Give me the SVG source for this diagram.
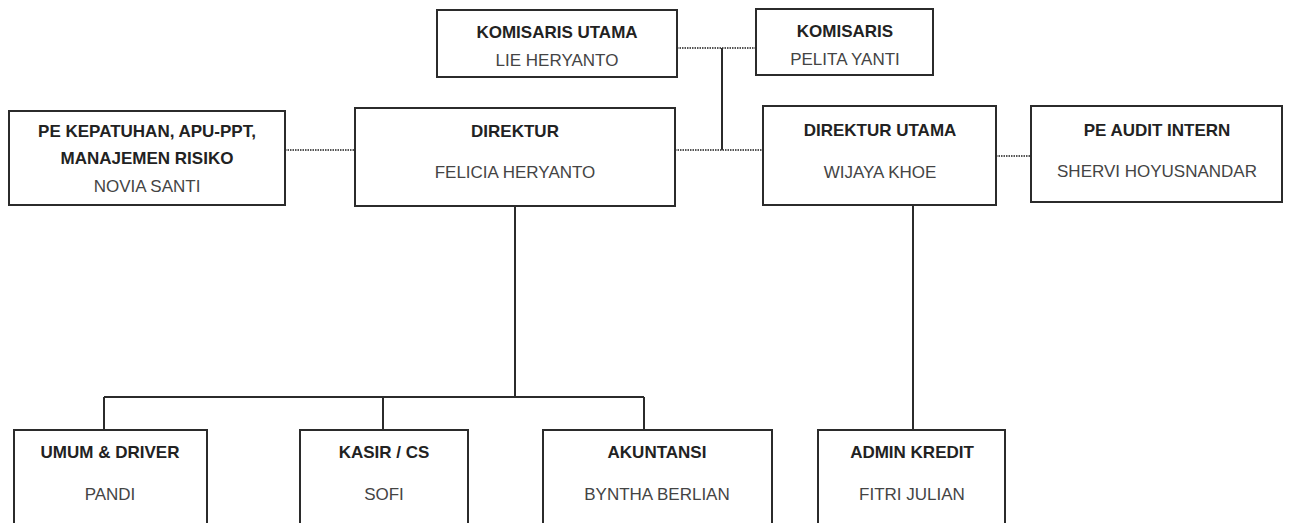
<svg xmlns="http://www.w3.org/2000/svg" width="1290" height="523" viewBox="0 0 1290 523">
<style>
.box{fill:#fff;stroke:#2b2b2b;stroke-width:2}
.t{font-family:"Liberation Sans",Arial,sans-serif;font-size:17px;font-weight:bold;fill:#222;text-anchor:middle}
.n{font-family:"Liberation Sans",Arial,sans-serif;font-size:17px;fill:#444;text-anchor:middle}
.solid{fill:none;stroke:#2b2b2b;stroke-width:2}
.dot{fill:none;stroke:#555;stroke-width:2;stroke-dasharray:1.5 1}
</style>
<rect width="1290" height="523" fill="#fff"/>
<g id="connectors">
<path class="dot" d="M677 48H756"/>
<path class="solid" d="M722 48V150"/>
<path class="dot" d="M285 150H355"/>
<path class="dot" d="M675 150H763"/>
<path class="dot" d="M996 156H1031"/>
<path class="solid" d="M515 206V397M104 397H644M104 397V430M383 397V430M644 397V430"/>
<path class="solid" d="M913 205V430"/>
</g>
<g id="komisaris-utama">
<rect class="box" x="437" y="10" width="240" height="67"/>
<text class="t" x="557" y="38">KOMISARIS UTAMA</text>
<text class="n" x="557" y="66">LIE HERYANTO</text>
</g>
<g id="komisaris">
<rect class="box" x="756" y="9" width="177" height="66"/>
<text class="t" x="845" y="37">KOMISARIS</text>
<text class="n" x="845" y="65">PELITA YANTI</text>
</g>
<g id="pe-kepatuhan">
<rect class="box" x="9" y="111" width="276" height="94"/>
<text class="t" x="147" y="137">PE KEPATUHAN, APU-PPT,</text>
<text class="t" x="147" y="164">MANAJEMEN RISIKO</text>
<text class="n" x="147" y="192">NOVIA SANTI</text>
</g>
<g id="direktur">
<rect class="box" x="355" y="108" width="320" height="98"/>
<text class="t" x="515" y="137">DIREKTUR</text>
<text class="n" x="515" y="178">FELICIA HERYANTO</text>
</g>
<g id="direktur-utama">
<rect class="box" x="763" y="106" width="233" height="99"/>
<text class="t" x="880" y="136">DIREKTUR UTAMA</text>
<text class="n" x="880" y="178">WIJAYA KHOE</text>
</g>
<g id="pe-audit">
<rect class="box" x="1031" y="106" width="251" height="96"/>
<text class="t" x="1157" y="136">PE AUDIT INTERN</text>
<text class="n" x="1157" y="177">SHERVI HOYUSNANDAR</text>
</g>
<g id="umum">
<rect class="box" x="14" y="430" width="193" height="100"/>
<text class="t" x="110" y="458">UMUM &amp; DRIVER</text>
<text class="n" x="110" y="500">PANDI</text>
</g>
<g id="kasir">
<rect class="box" x="300" y="430" width="168" height="100"/>
<text class="t" x="384" y="458">KASIR / CS</text>
<text class="n" x="384" y="500">SOFI</text>
</g>
<g id="akuntansi">
<rect class="box" x="543" y="430" width="229" height="100"/>
<text class="t" x="657" y="458">AKUNTANSI</text>
<text class="n" x="657" y="500">BYNTHA BERLIAN</text>
</g>
<g id="admin-kredit">
<rect class="box" x="818" y="430" width="187" height="100"/>
<text class="t" x="912" y="458">ADMIN KREDIT</text>
<text class="n" x="912" y="500">FITRI JULIAN</text>
</g>
</svg>
